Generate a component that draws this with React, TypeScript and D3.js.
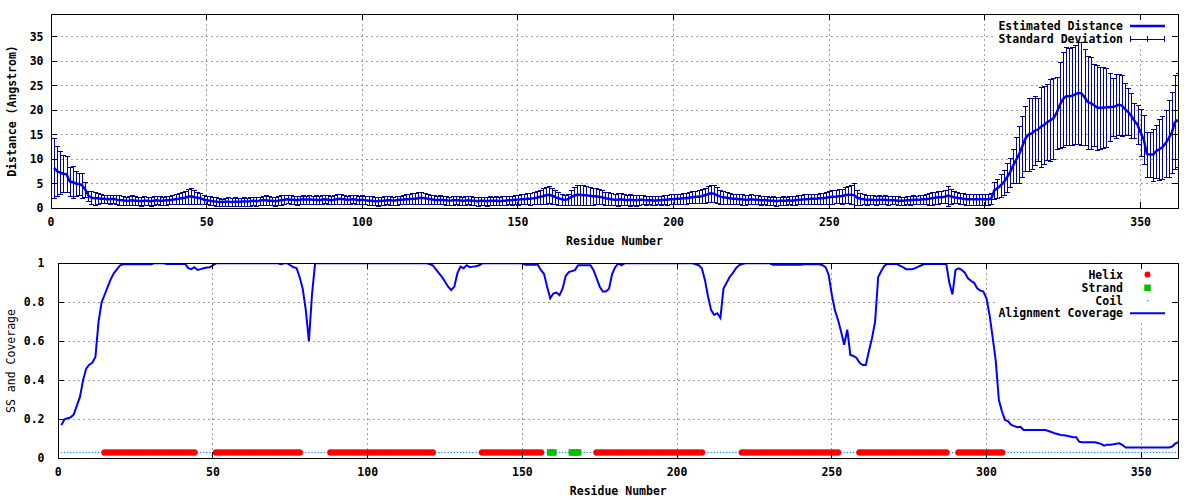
import React from 'react';
import * as d3 from 'd3';

// ---------- DATA ----------
const meanDistance: number[] = [
  8.2, 7.5, 7.2, 7.0, 6.9, 5.4, 5.3, 5.0, 4.9, 4.6,
  3.8, 2.5, 2.1, 2.0, 2.0, 1.9, 1.9, 1.8, 1.8, 1.9,
  1.7, 1.6, 1.6, 1.5, 1.5, 1.6, 1.5, 1.5, 1.4, 1.5,
  1.5, 1.4, 1.5, 1.6, 1.5, 1.5, 1.6, 1.6, 1.7, 1.8,
  1.9, 2.0, 2.1, 2.3, 2.4, 2.2, 2.1, 2.0, 1.7, 1.6,
  1.5, 1.4, 1.3, 1.2, 1.2, 1.3, 1.3, 1.2, 1.3, 1.3,
  1.3, 1.4, 1.3, 1.4, 1.5, 1.4, 1.5, 1.6, 1.6, 1.5,
  1.5, 1.4, 1.5, 1.6, 1.7, 1.8, 1.7, 1.7, 1.6, 1.7,
  1.8, 1.7, 1.8, 1.7, 1.7, 1.6, 1.7, 1.8, 1.7, 1.6,
  1.7, 1.8, 1.9, 1.8, 1.7, 1.7, 1.8, 1.7, 1.6, 1.7,
  1.6, 1.5, 1.5, 1.4, 1.4, 1.5, 1.5, 1.6, 1.6, 1.5,
  1.6, 1.7, 1.7, 1.8, 1.8, 1.9, 1.9, 2.0, 2.1, 2.0,
  1.9, 1.8, 1.7, 1.6, 1.7, 1.6, 1.6, 1.5, 1.6, 1.6,
  1.6, 1.5, 1.5, 1.6, 1.5, 1.5, 1.4, 1.5, 1.5, 1.4,
  1.5, 1.5, 1.5, 1.4, 1.5, 1.5, 1.6, 1.6, 1.7, 1.7,
  1.8, 1.8, 1.9, 1.9, 2.0, 2.1, 2.3, 2.4, 2.6, 2.7,
  2.5, 2.2, 2.0, 1.8, 1.7, 1.8, 2.2, 2.5, 2.7, 2.7,
  2.6, 2.6, 2.5, 2.4, 2.4, 2.3, 2.2, 2.0, 1.9, 1.8,
  1.7, 1.7, 1.8, 1.7, 1.6, 1.7, 1.6, 1.6, 1.7, 1.7,
  1.6, 1.6, 1.6, 1.5, 1.6, 1.6, 1.7, 1.7, 1.8, 1.8,
  1.9, 1.9, 2.0, 2.0, 2.1, 2.2, 2.3, 2.3, 2.4, 2.6,
  2.8, 3.0, 2.9, 2.6, 2.3, 2.2, 2.1, 2.0, 1.9, 1.9,
  1.8, 1.8, 1.7, 1.7, 1.8, 1.7, 1.7, 1.6, 1.6, 1.6,
  1.5, 1.5, 1.4, 1.5, 1.5, 1.5, 1.6, 1.5, 1.6, 1.7,
  1.7, 1.8, 1.8, 1.9, 1.9, 1.9, 2.0, 2.0, 2.1, 2.2,
  2.3, 2.3, 2.4, 2.4, 2.6, 2.7, 2.7, 2.6, 2.1, 1.9,
  1.8, 1.7, 1.7, 1.7, 1.6, 1.7, 1.7, 1.7, 1.6, 1.6,
  1.6, 1.5, 1.5, 1.5, 1.6, 1.6, 1.7, 1.7, 1.7, 1.8,
  1.8, 1.9, 2.0, 2.1, 2.2, 2.2, 2.3, 2.5, 2.4, 2.2,
  2.1, 2.0, 1.9, 1.8, 1.8, 1.8, 1.8, 1.8, 1.8, 1.8,
  1.8, 1.9, 3.6, 4.0, 4.6, 5.2, 6.2, 7.2, 8.6, 9.8,
  11.0, 12.6, 14.2, 15.0, 15.2, 15.8, 16.0, 16.6, 17.0, 17.5,
  17.9, 18.3, 19.4, 21.0, 22.2, 22.8, 22.8, 22.9, 23.2, 23.5,
  23.4, 22.6, 21.6, 21.4, 21.0, 20.5, 20.4, 20.5, 20.5, 20.6,
  20.6, 20.8, 21.1, 20.9, 20.2, 19.6, 18.8, 17.8, 17.0, 15.4,
  14.0, 11.0, 10.9, 10.9, 11.6, 12.0, 12.4, 13.2, 14.2, 15.4,
  17.5, 18.0,
];

const sdDistance: number[] = [
  6.1, 5.1, 4.4, 3.8, 3.7, 3.0, 3.3, 2.5, 2.3, 2.6,
  1.6, 1.0, 1.3, 1.3, 1.1, 0.9, 0.8, 0.8, 0.9, 0.8,
  0.9, 1.0, 0.9, 0.8, 0.9, 1.0, 0.9, 0.8, 0.9, 0.9,
  0.8, 0.9, 0.9, 0.8, 0.9, 0.8, 0.9, 0.8, 0.9, 1.0,
  1.1, 1.2, 1.3, 1.5, 1.6, 1.4, 1.2, 1.1, 0.9, 0.8,
  0.9, 0.8, 0.9, 0.8, 0.7, 0.8, 0.9, 0.8, 0.9, 0.8,
  0.8, 0.9, 0.8, 0.9, 0.8, 0.9, 0.8, 0.9, 1.0, 0.9,
  0.8, 0.9, 0.9, 1.0, 0.9, 0.8, 0.9, 0.8, 0.9, 0.8,
  0.9, 0.8, 0.9, 0.8, 0.9, 0.8, 0.9, 0.8, 0.9, 0.8,
  0.9, 1.0, 1.0, 0.9, 0.8, 0.9, 0.8, 0.9, 0.8, 0.9,
  0.8, 0.9, 0.9, 0.8, 0.9, 0.8, 0.9, 0.8, 0.9, 0.8,
  0.9, 0.8, 0.9, 1.0, 1.0, 1.1, 1.1, 1.2, 1.2, 1.1,
  1.0, 0.9, 0.9, 0.8, 0.9, 0.8, 0.9, 0.8, 0.9, 0.8,
  0.9, 0.8, 0.9, 0.8, 0.9, 0.8, 0.9, 0.8, 0.8, 0.9,
  0.9, 0.8, 0.9, 0.8, 0.9, 0.9, 0.8, 0.9, 0.9, 1.0,
  1.0, 1.0, 1.1, 1.2, 1.2, 1.3, 1.4, 1.6, 1.7, 1.7,
  1.6, 1.4, 1.3, 1.1, 1.0, 1.1, 1.5, 1.8, 2.0, 2.0,
  2.0, 1.9, 1.8, 1.7, 1.6, 1.5, 1.4, 1.3, 1.3, 1.2,
  1.1, 1.3, 1.2, 1.1, 1.0, 1.2, 1.0, 1.1, 1.0, 0.9,
  0.9, 0.8, 0.9, 0.9, 0.8, 0.9, 0.9, 1.0, 1.0, 1.0,
  1.0, 1.0, 1.1, 1.1, 1.1, 1.2, 1.2, 1.3, 1.4, 1.5,
  1.6, 1.7, 1.7, 1.6, 1.4, 1.3, 1.2, 1.1, 1.0, 1.0,
  1.0, 1.1, 1.0, 0.9, 1.0, 0.9, 0.9, 0.9, 0.8, 0.9,
  0.8, 0.9, 0.9, 0.8, 0.9, 0.8, 0.8, 0.9, 0.9, 0.9,
  0.9, 1.0, 1.0, 1.0, 1.0, 1.0, 1.1, 1.1, 1.2, 1.3,
  1.4, 1.3, 1.4, 1.5, 1.6, 1.7, 1.9, 2.6, 1.5, 1.2,
  1.0, 1.0, 0.9, 0.9, 0.9, 0.9, 0.8, 0.9, 0.9, 0.8,
  0.8, 0.9, 0.8, 0.8, 0.8, 0.9, 0.9, 0.8, 0.9, 0.9,
  1.0, 1.2, 1.3, 1.2, 1.3, 1.2, 1.3, 2.0, 1.5, 1.2,
  1.1, 1.1, 1.1, 1.1, 1.1, 1.1, 1.1, 1.1, 1.1, 1.1,
  1.1, 1.1, 1.8, 2.0, 2.4, 2.6, 3.0, 3.0, 3.4, 4.6,
  5.8, 6.2, 6.6, 7.5, 7.3, 7.0, 6.5, 8.2, 8.0, 7.8,
  8.4, 8.2, 7.3, 8.8, 9.7, 10.0, 9.9, 10.0, 10.1, 10.4,
  10.5, 9.8, 9.5, 9.4, 8.4, 8.6, 8.3, 8.2, 8.0, 7.0,
  6.0, 6.5, 6.3, 6.3, 5.3, 4.8, 4.6, 3.6, 4.0, 4.8,
  5.0, 4.6, 4.6, 5.3, 5.4, 6.2, 6.4, 6.8, 7.9, 8.2,
  9.6, 9.6,
];

const coverage: number[] = [
  0.17, 0.20, 0.205, 0.21, 0.225, 0.27, 0.315, 0.40, 0.46, 0.48,
  0.49, 0.52, 0.70, 0.80, 0.84, 0.88, 0.92, 0.95, 0.97, 0.99,
  0.995, 0.995, 0.995, 0.995, 0.995, 0.995, 0.995, 0.995, 0.995, 0.995,
  1, 1, 1, 1, 0.997, 0.997, 0.997, 0.997, 0.997, 0.997,
  0.997, 0.975, 0.97, 0.98, 0.966, 0.97, 0.975, 0.978, 0.98, 0.99,
  1, 1, 1, 1, 1, 1, 1, 1, 1, 1,
  1, 1, 1, 1, 1, 1, 1, 1, 1, 1,
  1, 0.995, 1, 1, 0.99, 0.98, 0.976, 0.93, 0.87, 0.76,
  0.60, 0.84, 1, 1, 1, 1, 1, 1, 1, 1,
  1, 1, 1, 1, 1, 1, 1, 1, 1, 1,
  1, 1, 1, 1, 1, 1, 1, 1, 1, 1,
  1, 1, 1, 1, 1, 1, 1, 1, 1, 0.996,
  0.99, 0.97, 0.95, 0.93, 0.905, 0.88, 0.863, 0.88, 0.95, 0.983,
  0.975, 0.99, 0.98, 0.983, 0.985, 0.99, 1, 1, 1, 1,
  1, 1, 1, 1, 1, 1, 1, 1, 1, 1,
  0.993, 0.993, 0.993, 0.993, 0.993, 0.965, 0.945, 0.88, 0.82, 0.845,
  0.85, 0.837, 0.87, 0.935, 0.955, 0.96, 0.965, 0.99, 0.99, 0.99,
  0.99, 0.99, 0.965, 0.923, 0.88, 0.855, 0.855, 0.87, 0.945, 0.98,
  1, 0.99, 1, 1, 1, 1, 1, 1, 1, 1,
  1, 1, 1, 1, 1, 1, 1, 1, 1, 1,
  1, 1, 1, 1, 1, 0.995, 0.99, 0.975, 0.915, 0.83,
  0.76, 0.735, 0.744, 0.72, 0.87, 0.9, 0.93, 0.95, 0.974, 0.99,
  0.996, 1, 1, 1, 1, 1, 1, 1, 1, 1,
  0.993, 0.993, 0.993, 0.993, 0.993, 0.993, 0.993, 0.993, 0.993, 0.993,
  0.995, 0.995, 0.995, 0.995, 0.995, 0.995, 0.99, 0.98, 0.94, 0.84,
  0.76, 0.71, 0.65, 0.582, 0.66, 0.53, 0.525, 0.515, 0.49, 0.478,
  0.478, 0.55, 0.616, 0.70, 0.93, 0.96, 0.988, 0.997, 0.997, 0.997,
  0.997, 0.988, 0.98, 0.97, 0.97, 0.97, 0.975, 0.983, 0.99, 0.997,
  0.997, 0.997, 0.997, 0.997, 0.997, 0.997, 0.997, 0.90, 0.84, 0.966,
  0.974, 0.966, 0.952, 0.923, 0.91, 0.9, 0.872, 0.86, 0.855, 0.82,
  0.735, 0.62, 0.50, 0.30, 0.24, 0.197, 0.19, 0.171, 0.165, 0.159,
  0.162, 0.145, 0.145, 0.145, 0.145, 0.145, 0.145, 0.145, 0.145, 0.14,
  0.135, 0.128, 0.125, 0.12, 0.118, 0.116, 0.112, 0.108, 0.108, 0.085,
  0.082, 0.082, 0.082, 0.082, 0.082, 0.078, 0.074, 0.065, 0.07, 0.07,
  0.072, 0.075, 0.077, 0.068, 0.055, 0.055, 0.055, 0.055, 0.055, 0.055,
  0.055, 0.055, 0.055, 0.055, 0.055, 0.055, 0.055, 0.055, 0.055, 0.06,
  0.075, 0.083,
];

const helixRanges: [number, number][] = [
  [15, 44], [51, 78], [88, 121], [137, 156], [174, 208], [221, 252], [259, 287], [291, 305],
];
const strandRanges: [number, number][] = [[159, 160], [166, 168]];

const xTicks = [0, 50, 100, 150, 200, 250, 300, 350];
const yTicksTop = [0, 5, 10, 15, 20, 25, 30, 35];
const yTicksBottom = [0, 0.2, 0.4, 0.6, 0.8, 1];
const ssLevel = 0.03;
const residueCount = 362;

// ---------- LAYOUT ----------
const FONT = '"DejaVu Sans Mono", "Liberation Mono", monospace';
const FS = 11.5;

const top = { l: 51, r: 1178, t: 14, b: 208 };
const bot = { l: 58.3, r: 1178.3, t: 263.3, b: 458.3 };

export default function App() {
  const residues = d3.range(1, residueCount + 1);
  const xT = d3.scaleLinear().domain([0, 362]).range([top.l, top.r]);
  const yT = d3.scaleLinear().domain([0, 39.6]).range([top.b, top.t]);
  const xB = d3.scaleLinear().domain([0, 362]).range([bot.l, bot.r]);
  const yB = d3.scaleLinear().domain([0, 1]).range([bot.b, bot.t]);

  const meanLine = d3.line<number>().x((r) => xT(r)).y((r) => yT(meanDistance[r - 1]))(residues) || '';
  const covLine = d3.line<number>().x((r) => xB(r)).y((r) => yB(coverage[r - 1]))(residues) || '';

  const cap = 2.2;
  let errPath = '';
  residues.forEach((r) => {
    const m = meanDistance[r - 1];
    const s = sdDistance[r - 1];
    const x = Math.round(xT(r)) + 0.5;
    const y1 = Math.round(yT(m + s)) + 0.5;
    const y0 = Math.round(yT(m - s)) + 0.5;
    errPath += `M${x},${y0}V${y1}M${x - cap},${y1}H${x + cap}M${x - cap},${y0}H${x + cap}`;
  });

  const inRanges = (r: number, rs: [number, number][]) => rs.some(([a, b]) => r >= a && r <= b);
  const helixRes = residues.filter((r) => inRanges(r, helixRanges));
  const strandRes = residues.filter((r) => inRanges(r, strandRanges));
  const coilRes = residues.filter((r) => !inRanges(r, helixRanges) && !inRanges(r, strandRanges));

  const gridColor = '#a0a0a0';
  const tickLen = 6;

  const renderFrame = (
    p: { l: number; r: number; t: number; b: number },
    xs: d3.ScaleLinear<number, number>,
    ys: d3.ScaleLinear<number, number>,
    yTicks: number[],
    yFmt: (v: number) => string,
    yLabelX: number,
    xLabelY: number,
    key: string
  ) => (
    <g key={key}>
      <g stroke={gridColor} strokeWidth={1} strokeDasharray="2,3" shapeRendering="crispEdges">
        {xTicks.filter((t) => t > 0).map((t) => (
          <line key={'gx' + t} x1={xs(t)} x2={xs(t)} y1={p.t} y2={p.b} />
        ))}
        {yTicks.filter((t) => t > 0 && ys(t) > p.t + 1).map((t) => (
          <line key={'gy' + t} x1={p.l} x2={p.r} y1={ys(t)} y2={ys(t)} />
        ))}
      </g>
      <g fontFamily={FONT} fontSize={FS} fontWeight="bold" fill="#000">
        {xTicks.map((t) => (
          <text key={'xl' + t} x={xs(t)} y={xLabelY} textAnchor="middle" dominantBaseline="central">
            {t}
          </text>
        ))}
        {yTicks.map((t) => (
          <text key={'yl' + t} x={yLabelX} y={ys(t)} textAnchor="end" dominantBaseline="central">
            {yFmt(t)}
          </text>
        ))}
      </g>
    </g>
  );

  const renderBorder = (
    p: { l: number; r: number; t: number; b: number },
    xs: d3.ScaleLinear<number, number>,
    ys: d3.ScaleLinear<number, number>,
    yTicks: number[],
    key: string
  ) => (
    <g key={key} stroke="#000" strokeWidth={1} shapeRendering="crispEdges" fill="none">
      {xTicks.map((t) => (
        <g key={'xt' + t}>
          <line x1={xs(t)} x2={xs(t)} y1={p.b} y2={p.b - tickLen} />
          <line x1={xs(t)} x2={xs(t)} y1={p.t} y2={p.t + tickLen} />
        </g>
      ))}
      {yTicks.map((t) => (
        <g key={'yt' + t}>
          <line x1={p.l} x2={p.l + tickLen} y1={ys(t)} y2={ys(t)} />
          <line x1={p.r} x2={p.r - tickLen} y1={ys(t)} y2={ys(t)} />
        </g>
      ))}
      <rect x={p.l} y={p.t} width={p.r - p.l} height={p.b - p.t} />
    </g>
  );

  const fmtB = (v: number) => (v === 0 ? '0' : v === 1 ? '1' : String(v));

  return (
    <svg width={1200} height={500} style={{ position: 'absolute', left: 0, top: 0, background: '#fff' }}>
      <defs>
        <clipPath id="clipTop">
          <rect x={top.l} y={top.t} width={top.r - top.l} height={top.b - top.t} />
        </clipPath>
        <clipPath id="clipBot">
          <rect x={bot.l} y={bot.t} width={bot.r - bot.l} height={bot.b - bot.t} />
        </clipPath>
      </defs>
      <rect x={0} y={0} width={1200} height={500} fill="#fff" />

      {/* ===== TOP PANEL ===== */}
      {renderFrame(top, xT, yT, yTicksTop, (v) => String(v), 43.5, 221.5, 'ft')}
      <rect x={993} y={top.t + 1} width={top.r - 993 - 1} height={30} fill="#fff" />
      <g clipPath="url(#clipTop)">
        <path d={errPath} stroke="#0000a0" strokeWidth={1} fill="none" shapeRendering="crispEdges" />
        <path d={meanLine} stroke="#0000ff" strokeWidth={2.5} fill="none" strokeLinejoin="round" />
      </g>
      {renderBorder(top, xT, yT, yTicksTop, 'bt')}
      <g fontFamily={FONT} fontSize={FS} fontWeight="bold" fill="#000">
        <text x={1123} y={26} textAnchor="end" dominantBaseline="central">Estimated Distance</text>
        <text x={1123} y={39} textAnchor="end" dominantBaseline="central">Standard Deviation</text>
      </g>
      <line x1={1130} x2={1165} y1={26} y2={26} stroke="#0000ff" strokeWidth={2.5} />
      <g stroke="#0000a0" strokeWidth={1} shapeRendering="crispEdges">
        <line x1={1130} x2={1165} y1={39} y2={39} />
        <line x1={1130.5} x2={1130.5} y1={36} y2={42} />
        <line x1={1147.5} x2={1147.5} y1={36} y2={42} />
        <line x1={1164.5} x2={1164.5} y1={36} y2={42} />
      </g>
      <text x={12} y={111} fontFamily={FONT} fontSize={FS} fontWeight="bold" textAnchor="middle"
        dominantBaseline="central" transform="rotate(-90 12 111)">Distance (Angstrom)</text>
      <text x={614.5} y={241} fontFamily={FONT} fontSize={FS} fontWeight="bold" textAnchor="middle"
        dominantBaseline="central">Residue Number</text>

      {/* ===== BOTTOM PANEL ===== */}
      {renderFrame(bot, xB, yB, yTicksBottom, fmtB, 44.5, 471.5, 'fb')}
      <rect x={997} y={bot.t + 1} width={bot.r - 997 - 1} height={57} fill="#fff" />
      <g clipPath="url(#clipBot)">
        {coilRes.map((r) => (
          <rect key={'c' + r} x={xB(r) - 0.6} y={yB(ssLevel) - 0.6} width={1.3} height={1.3} fill="#1a8cff" />
        ))}
        {helixRes.map((r) => (
          <circle key={'h' + r} cx={xB(r)} cy={yB(ssLevel)} r={3.3} fill="#ff0000" />
        ))}
        {strandRes.map((r) => (
          <rect key={'s' + r} x={xB(r) - 3.3} y={yB(ssLevel) - 3.3} width={6.6} height={6.6} fill="#00c000" />
        ))}
        <path d={covLine} stroke="#0000ff" strokeWidth={2} fill="none" strokeLinejoin="miter" />
      </g>
      {renderBorder(bot, xB, yB, yTicksBottom, 'bb')}
      <g fontFamily={FONT} fontSize={FS} fontWeight="bold" fill="#000">
        <text x={1123} y={275} textAnchor="end" dominantBaseline="central">Helix</text>
        <text x={1123} y={287.8} textAnchor="end" dominantBaseline="central">Strand</text>
        <text x={1123} y={300.6} textAnchor="end" dominantBaseline="central">Coil</text>
        <text x={1123} y={313.4} textAnchor="end" dominantBaseline="central">Alignment Coverage</text>
      </g>
      <circle cx={1147.5} cy={274.5} r={3} fill="#ff0000" />
      <rect x={1144.3} y={284.5} width={6.5} height={6.5} fill="#00c000" />
      <rect x={1147} y={300} width={1.3} height={1.3} fill="#1a8cff" />
      <line x1={1130} x2={1165} y1={313.3} y2={313.3} stroke="#0000ff" strokeWidth={2} />
      <text x={11} y={361} fontFamily={FONT} fontSize={FS} textAnchor="middle"
        dominantBaseline="central" transform="rotate(-90 11 361)">SS and Coverage</text>
      <text x={618.3} y={491} fontFamily={FONT} fontSize={FS} fontWeight="bold" textAnchor="middle"
        dominantBaseline="central">Residue Number</text>
    </svg>
  );
}
